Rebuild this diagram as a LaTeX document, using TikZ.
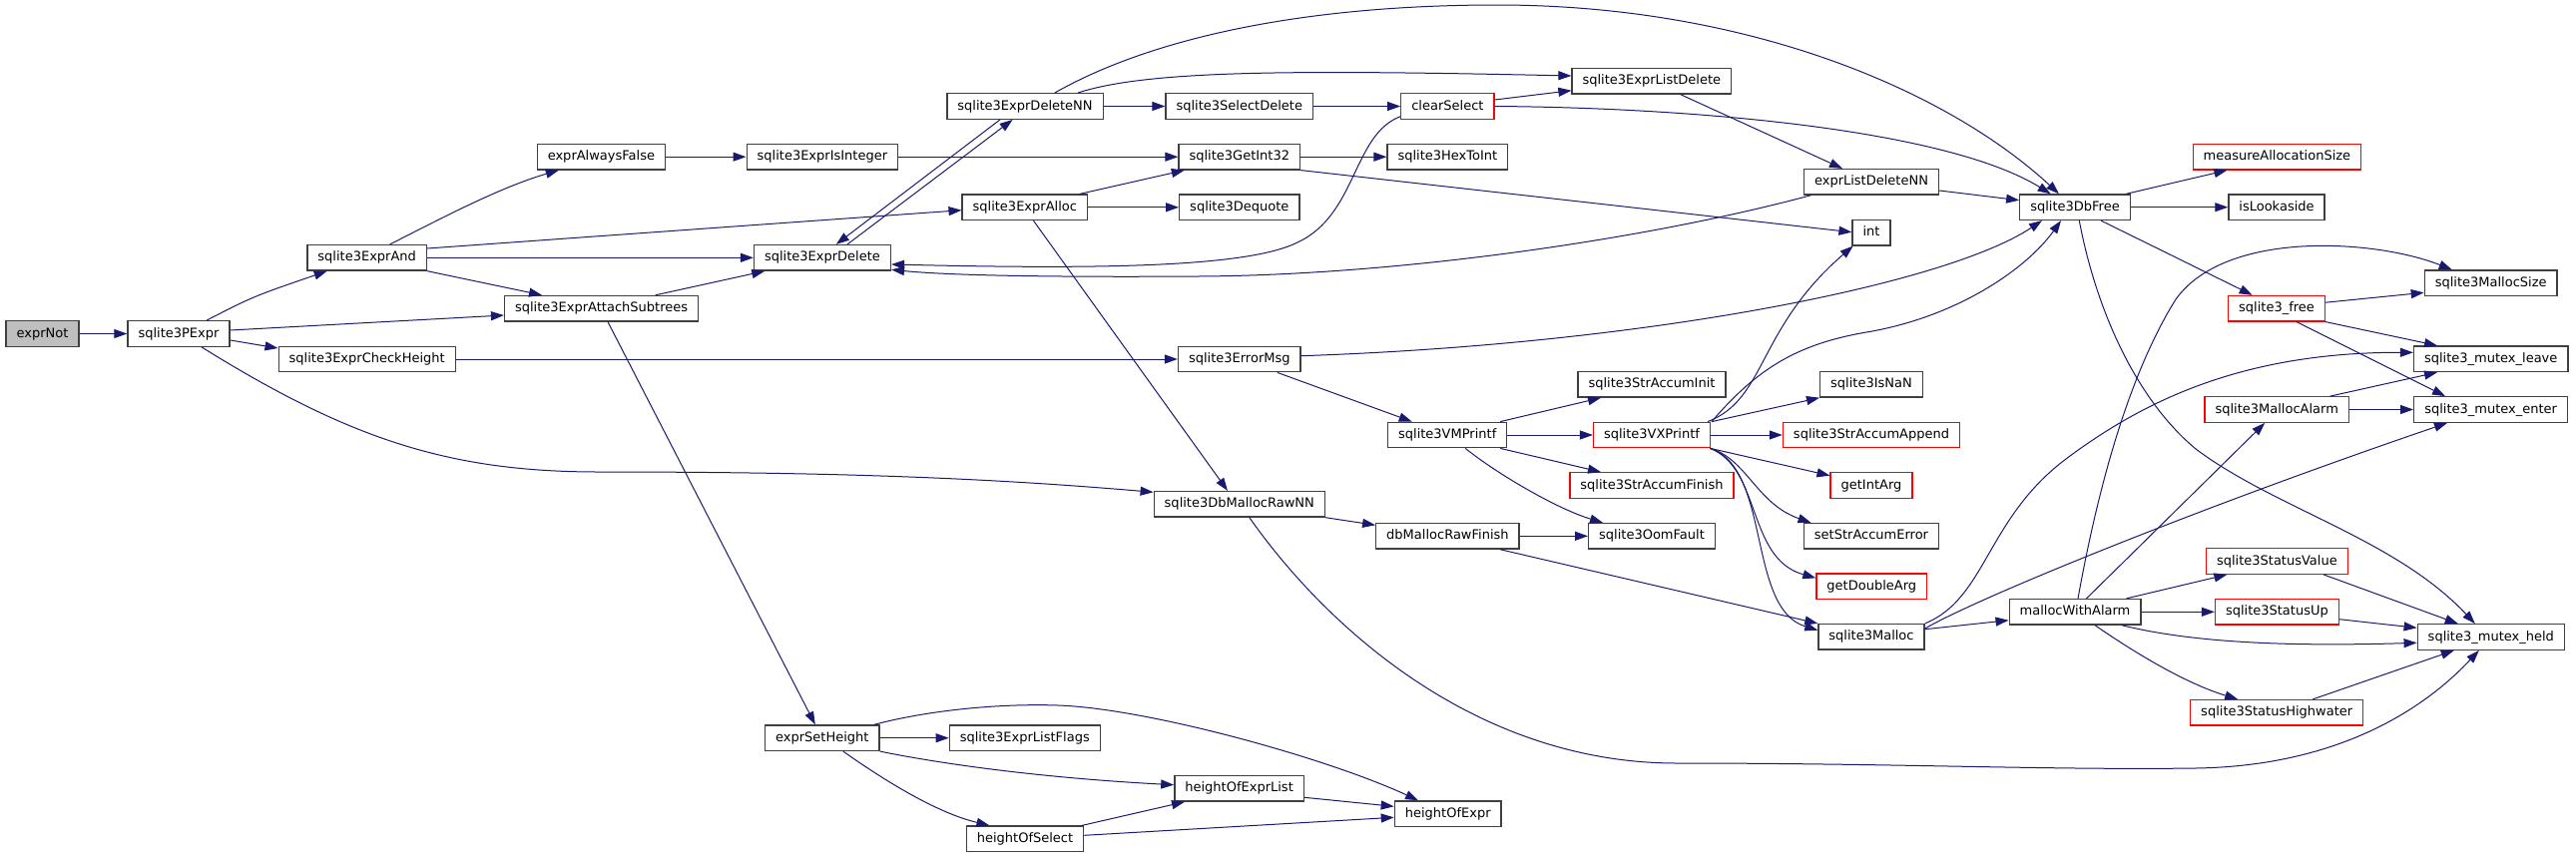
\documentclass[tikz,border=0pt]{standalone}
\usepackage{fontspec}
\setmainfont{DejaVu Sans}
\usetikzlibrary{arrows.meta}

\definecolor{midnightblue}{RGB}{25,25,112}
\definecolor{grey25}{RGB}{64,64,64}
\definecolor{grey75}{RGB}{191,191,191}

\begin{document}
\begin{tikzpicture}[
    x=1pt, y=-1pt,
    >={Triangle[length=13pt,width=9pt]},
    fn/.style={
        rectangle,
        draw=grey25,
        fill=white,
        line width=1.3pt,
        minimum height=25.5pt,
        inner xsep=10.5pt,
        inner ysep=0pt,
        text height=10pt,
        text depth=3pt,
        font=\fontsize{13}{15}\selectfont
    },
    fncut/.style={fn, draw=red},
    fnroot/.style={fn, fill=grey75},
    calls/.style={
        ->,
        draw=midnightblue,
        line width=1pt
    }
]
\useasboundingbox (0,0) rectangle (2581,860);

% Functions, column by column
\node[fnroot] (exprnot) at (42.5,334.5) {exprNot};
\node[fn] (pexpr) at (179,334.5) {sqlite3PExpr};

\node[fn] (exprand) at (367.7,258.3) {sqlite3ExprAnd};
\node[fn] (checkheight) at (367.7,360) {sqlite3ExprCheckHeight};

\node[fn] (alwaysfalse) at (602.4,157.2) {exprAlwaysFalse};
\node[fn] (attach) at (602.6,309.2) {sqlite3ExprAttachSubtrees};

\node[fn] (isinteger) at (823.9,157.2) {sqlite3ExprIsInteger};
\node[fn] (exprdelete) at (824,258.3) {sqlite3ExprDelete};
\node[fn] (setheight) at (823.8,739.7) {exprSetHeight};

\node[fn] (deletenn) at (1027,106.5) {sqlite3ExprDeleteNN};
\node[fn] (alloc) at (1026.8,207.8) {sqlite3ExprAlloc};
\node[fn] (listflags) at (1026.8,739.7) {sqlite3ExprListFlags};
\node[fn] (heightselect) at (1027,840.8) {heightOfSelect};

\node[fn] (selectdelete) at (1241.8,106.5) {sqlite3SelectDelete};
\node[fn] (getint) at (1241.8,157.2) {sqlite3GetInt32};
\node[fn] (dequote) at (1241.8,207.8) {sqlite3Dequote};
\node[fn] (errormsg) at (1241.8,360) {sqlite3ErrorMsg};
\node[fn] (mallocrawnn) at (1241.8,505.3) {sqlite3DbMallocRawNN};
\node[fn] (heightlist) at (1241.6,790.3) {heightOfExprList};

\node[fncut] (clearselect) at (1450.4,106.5) {clearSelect};
\node[fn] (hextoint) at (1450.4,157.2) {sqlite3HexToInt};
\node[fn] (vmprintf) at (1450.2,436) {sqlite3VMPrintf};
\node[fn] (rawfinish) at (1450.4,537.3) {dbMallocRawFinish};
\node[fn] (heightexpr) at (1450.7,815.7) {heightOfExpr};

\node[fn] (listdelete) at (1654.8,81.3) {sqlite3ExprListDelete};
\node[fn] (accuminit) at (1655,385.3) {sqlite3StrAccumInit};
\node[fncut] (vxprintf) at (1655,436) {sqlite3VXPrintf};
\node[fncut] (accumfinish) at (1655,486.5) {sqlite3StrAccumFinish};
\node[fn] (oomfault) at (1655,537.3) {sqlite3OomFault};

\node[fn] (listdeletenn) at (1875,182.3) {exprListDeleteNN};
\node[fn] (intfn) at (1875,233.2) {int};
\node[fn] (isnan) at (1875,385.3) {sqlite3IsNaN};
\node[fncut] (accumappend) at (1875,436) {sqlite3StrAccumAppend};
\node[fncut] (getintarg) at (1875,486.5) {getIntArg};
\node[fn] (setaccumerror) at (1875,537.3) {setStrAccumError};
\node[fncut] (getdoublearg) at (1875.3,587.7) {getDoubleArg};
\node[fn] (malloc) at (1875,638.3) {sqlite3Malloc};

\node[fn] (dbfree) at (2079,207.7) {sqlite3DbFree};
\node[fn] (mallocwithalarm) at (2079,613.3) {mallocWithAlarm};

\node[fncut] (measure) at (2281.4,157.2) {measureAllocationSize};
\node[fn] (lookaside) at (2281,207.7) {isLookaside};
\node[fncut] (free) at (2281,309.2) {sqlite3\_free};
\node[fncut] (mallocalarm) at (2281.2,410.5) {sqlite3MallocAlarm};
\node[fncut] (statusvalue) at (2281.4,562.5) {sqlite3StatusValue};
\node[fncut] (statusup) at (2281.4,613.3) {sqlite3StatusUp};
\node[fncut] (highwater) at (2281.2,714.3) {sqlite3StatusHighwater};

\node[fn] (mallocsize) at (2495.7,283.7) {sqlite3MallocSize};
\node[fn] (mutexleave) at (2495.7,359.8) {sqlite3\_mutex\_leave};
\node[fn] (mutexenter) at (2495.6,410.5) {sqlite3\_mutex\_enter};
\node[fn] (mutexheld) at (2495.8,638.5) {sqlite3\_mutex\_held};

% Calls out of the parser side
\draw[calls] (exprnot) -- (pexpr);
\draw[calls] ([xshift=28pt]pexpr.north) .. controls (254,297) .. ([xshift=-40pt]exprand.south);
\draw[calls] ([yshift=3.5pt]pexpr.east) -- ([yshift=-6.8pt]attach.west);
\draw[calls] ([yshift=-6.5pt]pexpr.east) -- ([yshift=11pt]checkheight.west);
\draw[calls] ([xshift=23pt]pexpr.south) .. controls (350,440) and (450,473) .. (600,473)
    .. controls (850,473) and (1000,480) .. ([yshift=12pt]mallocrawnn.west);
\draw[calls] ([xshift=23pt]exprand.north) .. controls (440,220) and (500,188) .. ([xshift=-42.6pt]alwaysfalse.south);
\draw[calls] ([yshift=9.3pt]exprand.east) -- ([yshift=-2.9pt]alloc.west);
\draw[calls] (exprand) -- (exprdelete);
\draw[calls] (exprand.south east) -- ([xshift=-59.6pt]attach.north);
\draw[calls] (alwaysfalse) -- (isinteger);
\draw[calls] (isinteger) -- (getint);
\draw[calls] ([xshift=54pt]attach.north) -- ([xshift=-57.7pt]exprdelete.south);
\draw[calls] ([xshift=6.4pt]attach.south) -- ([xshift=-7pt]setheight.north);
\draw[calls] (checkheight) -- (errormsg);

% Expression deletion
\draw[calls] ([xshift=25pt]exprdelete.north) -- ([xshift=-12.4pt]deletenn.south);
\draw[calls] ([xshift=-25pt]deletenn.south) -- ([xshift=13.8pt]exprdelete.north);
\draw[calls] (deletenn) -- (selectdelete);
\draw[calls] ([xshift=52.8pt]deletenn.north) .. controls (1150,70) and (1300,70) .. ([yshift=5.3pt]listdelete.west);
\draw[calls] ([xshift=29.7pt]deletenn.north) .. controls (1150,40) and (1300,5) .. (1500,5)
    .. controls (1750,5) and (1950,90) .. ([xshift=-16pt]dbfree.north);
\draw[calls] ([xshift=55pt]alloc.north) -- ([xshift=-55pt]getint.south);
\draw[calls] (alloc) -- (dequote);
\draw[calls] ([xshift=8.7pt]alloc.south) -- ([xshift=-11.8pt]mallocrawnn.north);
\draw[calls] (selectdelete) -- (clearselect);
\draw[calls] ([yshift=6.5pt]clearselect.east) -- ([yshift=-9.4pt]listdelete.west);
\draw[calls] (clearselect.east) .. controls (1700,108) and (1950,130) .. ([xshift=-24.3pt]dbfree.north);
\draw[calls] ([yshift=-10.2pt]clearselect.west) .. controls (1355,135) and (1360,215) .. (1300,243)
    .. controls (1250,268) and (1100,270) .. ([yshift=-6.7pt]exprdelete.east);
\draw[calls] ([xshift=-60.5pt]listdeletenn.south) .. controls (1650,240) and (1400,276) .. (1200,277)
    .. controls (1050,278) and (950,276) .. ([yshift=-12pt]exprdelete.east);
\draw[calls] ([xshift=29pt]listdelete.south) -- ([xshift=-29pt]listdeletenn.north);
\draw[calls] ([yshift=-8.7pt]listdeletenn.east) -- ([yshift=7pt]dbfree.west);
\draw[calls] (getint) -- (hextoint);
\draw[calls] (getint.south east) -- ([yshift=0.5pt]intfn.west);

% Error message and printf
\draw[calls] ([yshift=3.3pt]errormsg.east) .. controls (1650,345) and (1950,285) .. ([xshift=-33pt]dbfree.south);
\draw[calls] ([xshift=38pt]errormsg.south) -- ([xshift=-35.5pt]vmprintf.north);
\draw[calls] ([xshift=53pt]vmprintf.north) -- ([xshift=-51pt]accuminit.south);
\draw[calls] (vmprintf) -- (vxprintf);
\draw[calls] ([xshift=53pt]vmprintf.south) -- ([xshift=-51pt]accumfinish.north);
\draw[calls] ([xshift=18pt]vmprintf.south) .. controls (1500,475) and (1560,510) .. ([xshift=-49pt]oomfault.north);
\draw[calls] ([xshift=56pt]vxprintf.north) .. controls (1770,400) and (1760,330) .. ([xshift=-18.4pt]intfn.south);
\draw[calls] ([xshift=60pt]vxprintf.north) .. controls (1760,370) and (1800,345) .. (1870,333)
    .. controls (1960,318) and (2030,270) .. ([xshift=-14pt]dbfree.south);
\draw[calls] ([xshift=60pt]vxprintf.north) -- ([xshift=-52pt]isnan.south);
\draw[calls] (vxprintf) -- (accumappend);
\draw[calls] ([xshift=58.5pt]vxprintf.south) -- ([yshift=9.8pt]getintarg.west);
\draw[calls] ([xshift=58.5pt]vxprintf.south) .. controls (1750,460) and (1760,505) .. ([xshift=-60.5pt]setaccumerror.north);
\draw[calls] ([xshift=58.5pt]vxprintf.south) .. controls (1765,470) and (1750,560) .. ([yshift=8.4pt]getdoublearg.west);
\draw[calls] ([xshift=58.5pt]vxprintf.south) .. controls (1775,470) and (1750,610) .. ([yshift=6.6pt]malloc.west);

% Allocation
\draw[calls] (mallocrawnn.south east) -- ([yshift=11pt]rawfinish.west);
\draw[calls] ([xshift=10pt]mallocrawnn.south) .. controls (1330,630) and (1480,765) .. (1680,765)
    .. controls (1900,765) and (2050,772) .. (2200,770)
    .. controls (2330,768) and (2420,720) .. ([xshift=-12pt]mutexheld.south);
\draw[calls] (rawfinish) -- (oomfault);
\draw[calls] ([xshift=52.6pt]rawfinish.south) -- (malloc.north west);
\draw[calls] (malloc.north east) .. controls (1990,600) and (1990,520) .. (2070,460)
    .. controls (2150,400) and (2250,353) .. ([yshift=6.5pt]mutexleave.west);
\draw[calls] ([yshift=8.3pt]malloc.east) .. controls (1980,600) and (2200,510) .. ([xshift=-43.6pt]mutexenter.south);
\draw[calls] ([yshift=7.6pt]malloc.east) -- ([yshift=-8.4pt]mallocwithalarm.west);

% Freeing
\draw[calls] ([xshift=51.4pt]dbfree.north) -- ([xshift=-50pt]measure.south);
\draw[calls] (dbfree) -- (lookaside);
\draw[calls] ([xshift=26pt]dbfree.south) -- ([xshift=-24.3pt]free.north);
\draw[calls] ([xshift=4.3pt]dbfree.south) .. controls (2100,310) and (2140,400) .. (2200,450)
    .. controls (2280,510) and (2400,540) .. ([xshift=-16pt]mutexheld.north);
\draw[calls] ([yshift=6pt]free.east) -- ([yshift=-9.6pt]mallocsize.west);
\draw[calls] (free.south east) -- ([xshift=-53.7pt]mutexleave.north);
\draw[calls] ([xshift=20pt]free.south) -- ([xshift=-45.6pt]mutexenter.north);
\draw[calls] ([xshift=53.4pt]mallocalarm.north) -- ([xshift=-53.7pt]mutexleave.south);
\draw[calls] (mallocalarm) -- (mutexenter);

% Malloc with alarm and status
\draw[calls] ([xshift=3pt]mallocwithalarm.north) .. controls (2100,500) and (2130,380) .. (2180,300)
    .. controls (2230,230) and (2380,240) .. ([xshift=-39pt]mallocsize.north);
\draw[calls] ([xshift=11.5pt]mallocwithalarm.north) -- ([xshift=-12pt]mallocalarm.south);
\draw[calls] ([xshift=51.4pt]mallocwithalarm.north) -- ([xshift=-50pt]statusvalue.south);
\draw[calls] (mallocwithalarm) -- (statusup);
\draw[calls] ([xshift=47pt]mallocwithalarm.south) .. controls (2200,645) and (2300,648) .. ([yshift=-5.8pt]mutexheld.west);
\draw[calls] ([xshift=20pt]mallocwithalarm.south) .. controls (2140,655) and (2190,685) .. ([xshift=-39pt]highwater.north);
\draw[calls] ([xshift=46.6pt]statusvalue.south) -- ([xshift=-33pt]mutexheld.north);
\draw[calls] ([yshift=-7.4pt]statusup.east) -- ([yshift=9.2pt]mutexheld.west);
\draw[calls] ([xshift=36pt]highwater.north) -- ([xshift=-37pt]mutexheld.south);

% Height of expressions
\draw[calls] (setheight) -- (listflags);
\draw[calls] (setheight.south east) .. controls (950,767) and (1050,780) .. ([yshift=3.6pt]heightlist.west);
\draw[calls] ([xshift=21pt]setheight.south) .. controls (890,785) and (940,815) .. ([xshift=-35.6pt]heightselect.north);
\draw[calls] ([xshift=52pt]setheight.north) .. controls (930,712) and (1000,705) .. (1060,707)
    .. controls (1150,710) and (1330,760) .. ([xshift=-29.7pt]heightexpr.north);
\draw[calls] ([xshift=57pt]heightselect.north) -- ([xshift=-54.6pt]heightlist.south);
\draw[calls] ([yshift=3.5pt]heightselect.east) -- ([yshift=-3.6pt]heightexpr.west);
\draw[calls] ([yshift=-9pt]heightlist.east) -- ([yshift=7.4pt]heightexpr.west);

\end{tikzpicture}
\end{document}
